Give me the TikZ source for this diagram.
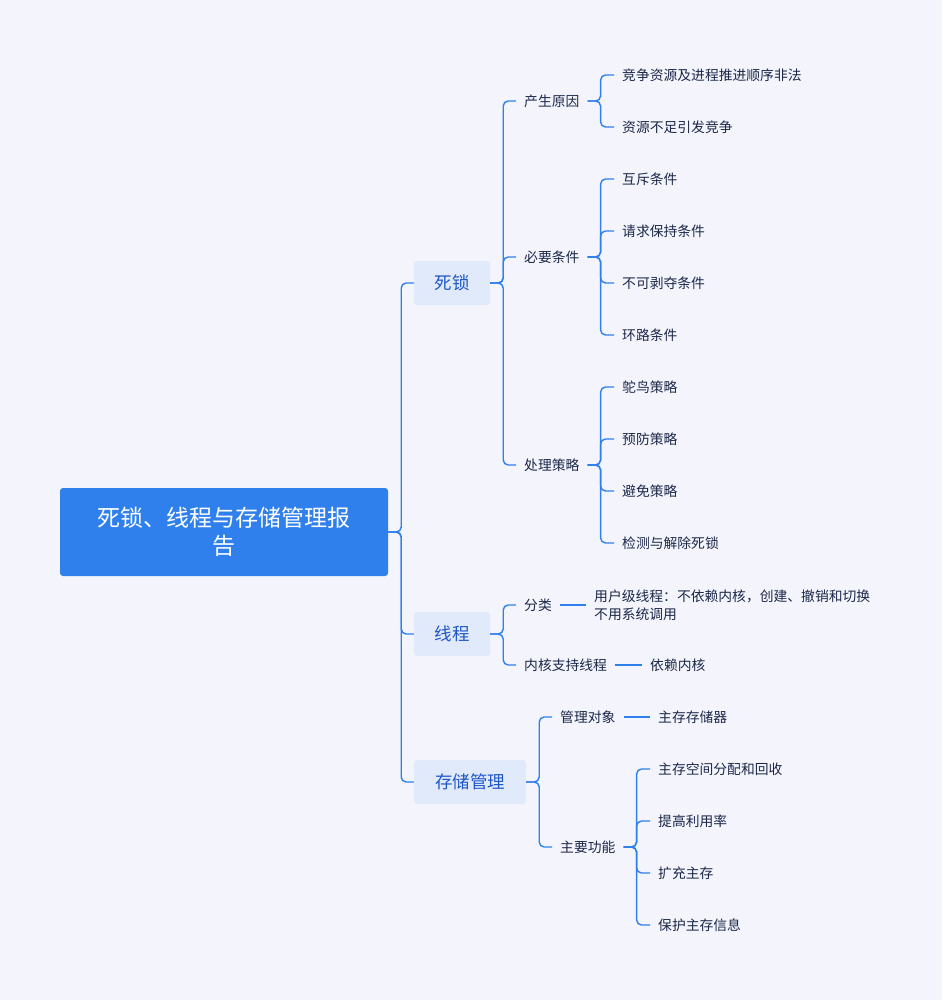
\documentclass[tikz,border=0pt]{standalone}
\usepackage{fontspec}
\setmainfont{Noto Sans CJK SC}
\definecolor{bg}{HTML}{F4F5FC}
\definecolor{mainblue}{HTML}{2F80ED}
\definecolor{pale}{HTML}{E0EAFB}
\definecolor{ink}{HTML}{1C2748}
\definecolor{deep}{HTML}{1F56C8}
\tikzset{
	root/.style={fill=mainblue, text=white, rounded corners=3pt, minimum width=328pt, minimum height=88pt, font=\fontsize{23}{28}\selectfont, align=center},
	topic/.style={fill=pale, text=deep, rounded corners=3pt, minimum height=44pt, font=\fontsize{17.5}{20}\selectfont},
	sub/.style={anchor=west, text=ink, inner xsep=8pt, inner ysep=2pt, font=\fontsize{13.8}{18}\selectfont, align=left},
	link/.style={mainblue, line width=1.4pt, rounded corners=5pt}
}
\begin{document}
\begin{tikzpicture}[x=1pt,y=-1pt]
\fill[bg] (0,0) rectangle (942,1000);

\node (root) at (224,532) [root] {死锁、线程与存储管理报\\告};

\node (lock) at (452,283) [topic,minimum width=76pt] {死锁};
\node (thread) at (452,634) [topic,minimum width=76pt] {线程};
\node (store) at (470,782) [topic,minimum width=112pt] {存储管理};

\node (cause) at (516,101) [sub] {产生原因};
\node (need) at (516,257) [sub] {必要条件};
\node (policy) at (516,465) [sub] {处理策略};
\node (kind) at (516,605) [sub] {分类};
\node (kernel) at (516,665) [sub] {内核支持线程};
\node (object) at (552,717) [sub] {管理对象};
\node (func) at (552,847) [sub] {主要功能};

\node (c1) at (614,75) [sub] {竞争资源及进程推进顺序非法};
\node (c2) at (614,127) [sub] {资源不足引发竞争};
\node (n1) at (614,179) [sub] {互斥条件};
\node (n2) at (614,231) [sub] {请求保持条件};
\node (n3) at (614,283) [sub] {不可剥夺条件};
\node (n4) at (614,335) [sub] {环路条件};
\node (p1) at (614,387) [sub] {鸵鸟策略};
\node (p2) at (614,439) [sub] {预防策略};
\node (p3) at (614,491) [sub] {避免策略};
\node (p4) at (614,543) [sub] {检测与解除死锁};
\node (user) at (586,605) [sub] {用户级线程：不依赖内核，创建、撤销和切换\\不用系统调用};
\node (dep) at (642,665) [sub] {依赖内核};
\node (mem) at (650,717) [sub] {主存存储器};
\node (f1) at (650,769) [sub] {主存空间分配和回收};
\node (f2) at (650,821) [sub] {提高利用率};
\node (f3) at (650,873) [sub] {扩充主存};
\node (f4) at (650,925) [sub] {保护主存信息};

% branches
\foreach \t in {lock,thread,store}
	\draw[link] (root.east) -- ++(13,0) |- (\t.west);
\foreach \t in {cause,need,policy}
	\draw[link] (lock.east) -- ++(13,0) |- (\t.west);
\foreach \t in {kind,kernel}
	\draw[link] (thread.east) -- ++(13,0) |- (\t.west);
\foreach \t in {object,func}
	\draw[link] (store.east) -- ++(13,0) |- (\t.west);
\foreach \t in {c1,c2}
	\draw[link] (cause.east) -- ++(13,0) |- (\t.west);
\foreach \t in {n1,n2,n3,n4}
	\draw[link] (need.east) -- ++(13,0) |- (\t.west);
\foreach \t in {p1,p2,p3,p4}
	\draw[link] (policy.east) -- ++(13,0) |- (\t.west);
\foreach \t in {f1,f2,f3,f4}
	\draw[link] (func.east) -- ++(13,0) |- (\t.west);
\draw[link] (kind.east) -- (user.west);
\draw[link] (kernel.east) -- (dep.west);
\draw[link] (object.east) -- (mem.west);
\end{tikzpicture}
\end{document}
